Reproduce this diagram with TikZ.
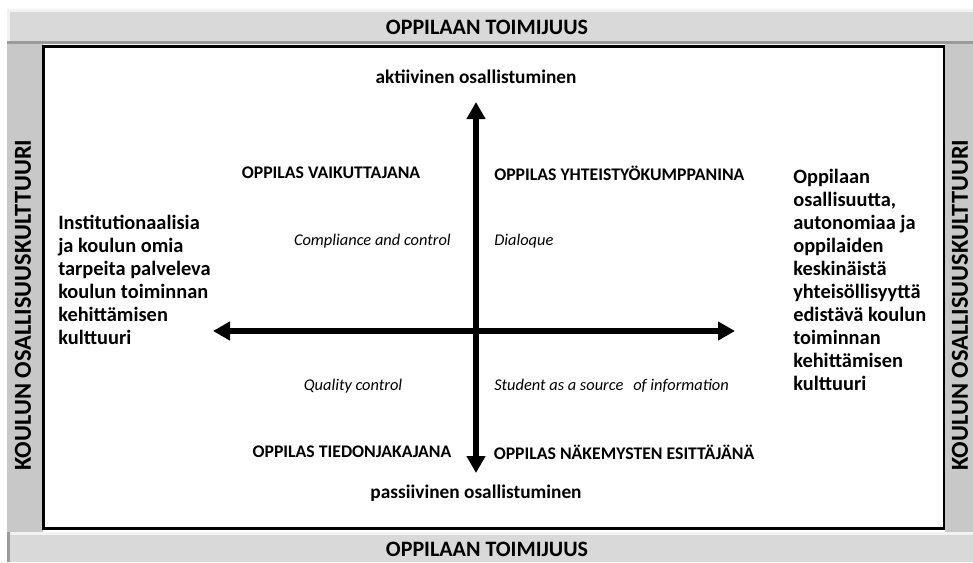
\documentclass[tikz,border=0pt]{standalone}
\usepackage{fontspec}
\setmainfont{Carlito}
\usetikzlibrary{arrows.meta}
\definecolor{barlight}{HTML}{D9D9D9}
\definecolor{barside}{HTML}{C8C8C8}
\definecolor{bevelhi}{HTML}{F2F2F2}
\definecolor{bevelsh}{HTML}{9A9A9A}
\tikzset{
  bartitle/.style={font=\bfseries\fontsize{16.5pt}{19pt}\selectfont, inner sep=0pt},
  sidetitle/.style={font=\bfseries\fontsize{18.3pt}{20pt}\selectfont, inner sep=0pt, rotate=90},
  axislabel/.style={font=\bfseries\fontsize{14.5pt}{17pt}\selectfont, inner sep=0pt},
  quadlabel/.style={font=\bfseries\fontsize{13.3pt}{15pt}\selectfont, inner sep=0pt},
  quadnote/.style={font=\itshape\fontsize{12.3pt}{14pt}\selectfont, inner sep=0pt},
  culture/.style={font=\bfseries\fontsize{15.3pt}{17.3pt}\selectfont, inner sep=0pt, align=left},
  axis/.style={line width=4.8pt, {Triangle[length=12.75pt,width=13.5pt]}-{Triangle[length=12.75pt,width=13.5pt]}}
}
\begin{document}
\begin{tikzpicture}[x=0.75pt,y=-0.75pt]
\useasboundingbox (0,0) rectangle (973,562);
% side bars
\fill[barside] (7,44) rectangle (43,532);
\fill[barside] (945,44) rectangle (973,532);
% top bar with bevel
\fill[barlight] (7,9) rectangle (973,44);
\fill[bevelhi] (7,9) rectangle (973,12);
\fill[bevelhi] (7,9) rectangle (10,44);
\fill[bevelsh] (7,41) rectangle (973,44);
% bottom bar with bevel
\fill[barlight] (7,532) rectangle (973,562);
\fill[bevelhi] (7,532) rectangle (973,535);
\fill[bevelsh] (7,532) rectangle (10,562);
% main field
\draw[line width=2pt, fill=white] (43.5,46.5) rectangle (944,528.5);
% bar titles
\node[bartitle] (toptitle) at (487,27) {OPPILAAN TOIMIJUUS};
\node[bartitle] (bottitle) at (487,549) {OPPILAAN TOIMIJUUS};
\node[sidetitle] (lefttitle) at (23,305) {KOULUN OSALLISUUSKULTTUURI};
\node[sidetitle] (righttitle) at (960,305) {KOULUN OSALLISUUSKULTTUURI};
% axes
\coordinate (atop) at (476,102);
\coordinate (abot) at (476,473);
\coordinate (aleft) at (213,331);
\coordinate (aright) at (735,331);
\draw[axis] (abot) -- (atop);
\draw[axis] (aleft) -- (aright);
% axis ends
\node[axislabel] (active) at (476,77) {aktiivinen osallistuminen};
\node[axislabel] (passive) at (476,493) {passiivinen osallistuminen};
% quadrants
\node[quadlabel] (q1) at (331,173) {OPPILAS VAIKUTTAJANA};
\node[quadlabel, anchor=west] (q2) at (494,173) {OPPILAS YHTEISTYÖKUMPPANINA};
\node[quadnote, anchor=east] (n1) at (451,241) {Compliance and control};
\node[quadnote, anchor=west] (n2) at (494,241) {Dialoque};
\node[quadnote] (n3) at (353,386) {Quality control};
\node[quadnote, anchor=west] (n4) at (494,386) {Student as a source\hspace{0.6em}of information};
\node[quadlabel] (q3) at (352,452) {OPPILAS TIEDONJAKAJANA};
\node[quadlabel] (q4) at (624,452) {OPPILAS NÄKEMYSTEN ESITTÄJÄNÄ};
% cultures
\node[culture, anchor=west] (leftculture) at (58,280) {Institutionaalisia\\ja koulun omia\\tarpeita palveleva\\koulun toiminnan\\kehittämisen\\kulttuuri};
\node[culture, anchor=west] (rightculture) at (793,280) {Oppilaan\\osallisuutta,\\autonomiaa ja\\oppilaiden\\keskinäistä\\yhteisöllisyyttä\\edistävä koulun\\toiminnan\\kehittämisen\\kulttuuri};
\end{tikzpicture}
\end{document}
